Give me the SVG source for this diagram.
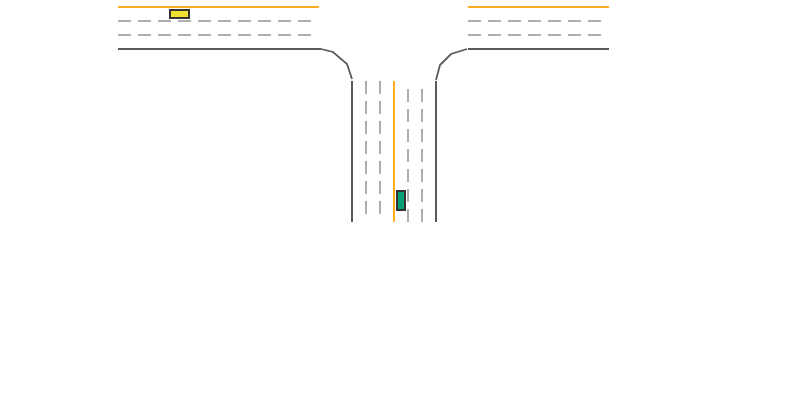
<svg xmlns="http://www.w3.org/2000/svg" width="800" height="400" viewBox="0 0 800 400">
<style>
.edge{fill:none;stroke:#5a5a5a;stroke-width:2}
.curve{fill:none;stroke:#5a5a5a;stroke-width:1.8}
.center{fill:none;stroke:#ffae22;stroke-width:2}
.lane{fill:none;stroke:#aeaeae;stroke-width:2;stroke-dasharray:13 7}
.car{stroke:#333;stroke-width:2}
</style>
<rect width="800" height="400" fill="#fff"/>
<g id="connectors">
<path class="center" d="M118 7H319"/>
<path class="center" d="M468 7H609"/>
<path class="center" d="M394 81V222"/>
<path class="lane" d="M118 21H311"/>
<path class="lane" d="M118 35H311"/>
<path class="lane" d="M468 21H601"/>
<path class="lane" d="M468 35H601"/>
<path class="lane" d="M366 81V214"/>
<path class="lane" d="M380 81V214"/>
<path class="lane" d="M408 89V222"/>
<path class="lane" d="M422 89V222"/>
<path class="edge" d="M118 49H321"/>
<path class="edge" d="M468 49H609"/>
<path class="edge" d="M352 81V222"/>
<path class="edge" d="M436 81V222"/>
<path class="curve" d="M321 49L333 52L347 64L352 79"/>
<path class="curve" d="M436 80L440 65L451 54L467 49"/>
</g>
<g id="car-yellow"><rect class="car" x="170" y="10" width="19" height="8" fill="#f0e130"/></g>
<g id="car-green"><rect class="car" x="397" y="191" width="8" height="19" fill="#0a9e73"/></g>
</svg>
